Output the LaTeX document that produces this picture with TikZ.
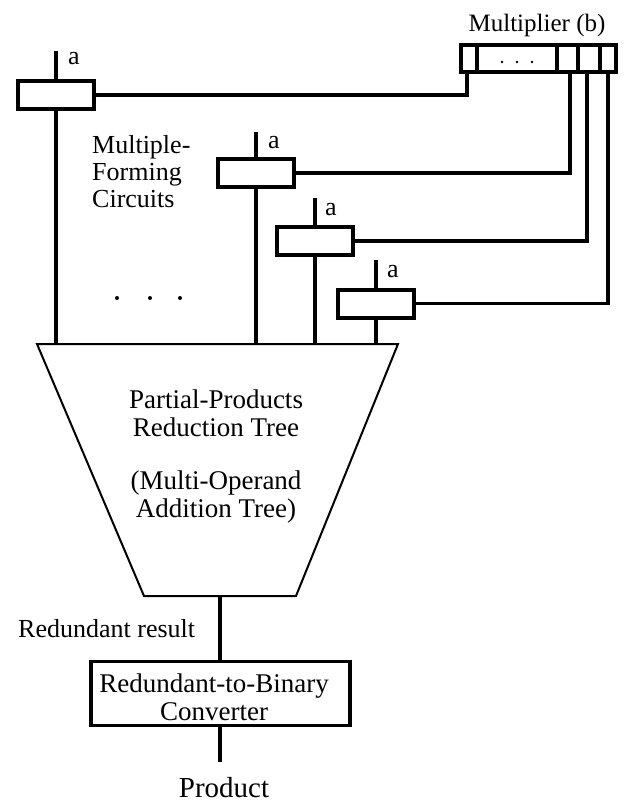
\documentclass[tikz,border=0pt]{standalone}
\usepackage{fontspec}
\setmainfont{Liberation Serif}
\begin{document}
\begin{tikzpicture}[x=1pt,y=-1pt,
  every node/.style={font=\fontsize{26}{27}\selectfont},
  mfbox/.style={draw,line width=4pt,minimum width=76pt,minimum height=28pt,inner sep=0pt,outer sep=0pt},
  regbox/.style={draw,line width=4pt,minimum width=155pt,minimum height=27pt,inner sep=0pt,outer sep=0pt},
  convbox/.style={draw,line width=3.2pt,minimum width=259pt,minimum height=64pt,inner sep=0pt,outer sep=0pt},
  wire/.style={line width=3.2pt},
  alabel/.style={inner sep=0pt,anchor=base west},
  treeline/.style={line width=2pt,line join=miter}]
\fill[white] (0,0) rectangle (629,806);
\useasboundingbox (0,0) rectangle (629,806);

% multiplier register
\node[regbox] (mreg) at (538.5,58) {};
\foreach \dx in {16,96,117,139}
  \draw[line width=4pt] ([xshift=\dx pt]mreg.north west) -- ([xshift=\dx pt]mreg.south west);
\foreach \x in {502,517,532} \fill (\x,62) circle[radius=1.4pt];
\node[anchor=base,inner sep=0pt,font=\fontsize{25}{27}\selectfont] (mlab) at (537,31) {Multiplier (b)};

% multiple-forming boxes
\node[mfbox] (m1) at (56,95) {};
\node[mfbox] (m2) at (256,173) {};
\node[mfbox] (m3) at (315,241) {};
\node[mfbox] (m4) at (376,303.5) {};

\coordinate (i1) at (56,51);
\coordinate (i2) at (256,132);
\coordinate (i3) at (315,198);
\coordinate (i4) at (376,260);
\draw[wire] (i1) -- (m1.north);
\draw[wire] (i2) -- (m2.north);
\draw[wire] (i3) -- (m3.north);
\draw[wire] (i4) -- (m4.north);
\node[alabel] (a1) at (68,64) {a};
\node[alabel] (a2) at (268,148) {a};
\node[alabel] (a3) at (325,215) {a};
\node[alabel] (a4) at (387,277) {a};

% multiplier bits to boxes
\draw[wire] (m1.east) -| ([xshift=6pt]mreg.south west);
\draw[wire] (m2.east) -| ([xshift=109pt]mreg.south west);
\draw[wire] (m3.east) -| ([xshift=126pt]mreg.south west);
\draw[wire] (m4.east) -| ([xshift=147pt]mreg.south west);

\node[anchor=north west,inner sep=0pt,align=left] (mfc) at (92,135) {Multiple-\\Forming\\Circuits};

\foreach \x in {117,150,180} \fill (\x,298) circle[radius=2pt];

% reduction tree
\coordinate (tl) at (37,344);
\coordinate (tr) at (398,344);
\coordinate (br) at (296,596);
\coordinate (bl) at (144,596);
\coordinate (bc) at (220,596);
\draw[treeline] (tl) -- (tr) -- (br) -- (bl) -- cycle;
\node[align=center,inner sep=0pt,font=\fontsize{27}{28}\selectfont] (tree) at (216,457)
  {Partial-Products\\Reduction Tree\\[25pt](Multi-Operand\\Addition Tree)};

\draw[wire] (m1.south) -- (m1.south |- tl);
\draw[wire] (m2.south) -- (m2.south |- tl);
\draw[wire] (m3.south) -- (m3.south |- tl);
\draw[wire] (m4.south) -- (m4.south |- tl);

% converter
\node[convbox] (conv) at (220.5,693.5) {};
\node[align=center,inner sep=0pt,font=\fontsize{27}{28}\selectfont] (convtext) at (214,697)
  {Redundant-to-Binary\\Converter};
\draw[wire] (bc) -- (bc |- conv.north);
\coordinate (pend) at (220,762);
\draw[wire] (conv.south -| pend) -- (pend);
\node[anchor=base west,inner sep=0pt] (rr) at (18,637) {Redundant result};
\node[anchor=base,inner sep=0pt,font=\fontsize{29}{30}\selectfont] (prod) at (224,797) {Product};
\end{tikzpicture}
\end{document}
